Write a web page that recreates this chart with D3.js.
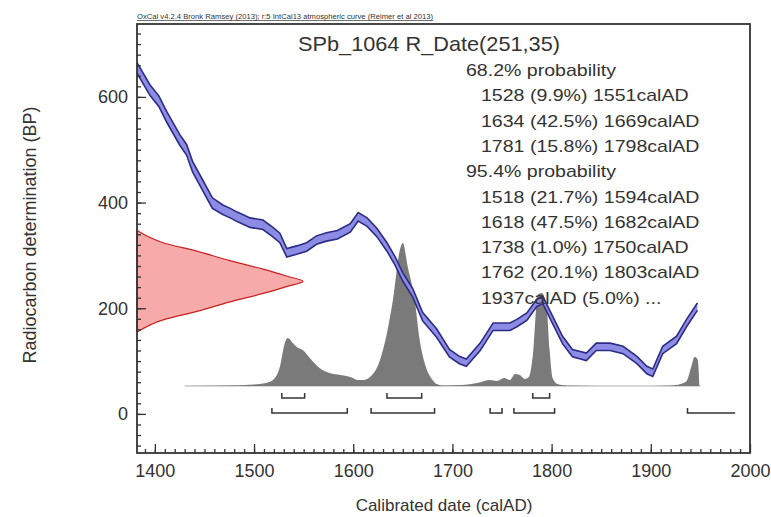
<!DOCTYPE html>
<html>
<head>
<meta charset="utf-8">
<script src="https://cdnjs.cloudflare.com/ajax/libs/d3/7.8.5/d3.min.js"></script>
<style>
  body { margin: 0; background: #fff; }
  text { font-family: "Liberation Sans", Arial, sans-serif; fill: #333; }
</style>
</head>
<body>
<script>
// calibration curve (IntCal13 section), calAD -> BP, with 1 sigma
var curveYear  = [1382,1395,1404,1412,1425,1432,1438,1447,1458,1469,1476,1483,1496,1509,1519,1526,1533,1543,1553,1563,1573,1584,1597,1605,1614,1624,1634,1642,1650,1660,1670,1684,1697,1707,1714,1728,1741,1758,1765,1775,1785,1791,1801,1811,1821,1835,1845,1859,1872,1886,1896,1902,1912,1926,1936,1947];
var curveBP    = [655,613,592,562,519,500,468,437,399,386,380,373,362,358,344,333,305,310,316,329,335,339,352,373,363,343,316,290,259,229,184,153,115,102,97,127,165,165,172,184,210,216,178,140,115,108,127,127,121,102,83,78,121,140,172,203];
var curveSigma = [10,10,10,10,10,10,10,10,10,9,9,9,9,9,9,9,8,8,8,8,8,8,8,8,8,8,8,8,8,8,8,8,7,7,7,7,7,7,7,7,7,7,7,7,7,7,7,7,7,7,7,7,7,7,7,7];

// measured date R_Date(251,35): BP vs relative density
var dateBP      = [156,178,194,212,228,241,251,261,274,290,308,324,346];
var dateDensity = [0.006,0.157,0.36,0.56,0.76,0.90,1.0,0.90,0.76,0.56,0.36,0.157,0.006];

// calibrated posterior: calAD vs relative probability
var postYear = [1430,1470,1500,1512,1519,1526,1531,1534,1539,1543,1549,1558,1566,1576,1587,1597,1605,1610,1617,1627,1634,1640,1647,1650,1655,1662,1667,1672,1680,1684,1692,1710,1725,1738,1745,1752,1758,1763,1768,1773,1777,1781,1786,1790,1795,1798,1801,1806,1815,1850,1900,1920,1930,1936,1941,1944,1947,1948,1949];
var postProb = [0,0.5,1.5,3,6,19,43,48,43,39,36,26,18,13,11,9,6,6,9,26,53,86,136,143,119,86,46,23,6,2,0.5,1,3,6,5,8,6,12,11,7,9,30,91,93,79,36,8,2,0.5,0,0,0.5,2,5,20,29,27,20,0];

// hpd ranges
var range68 = [[1528,1551],[1634,1669],[1781,1798]];
var range95 = [[1518,1594],[1618,1682],[1738,1750],[1762,1803],[1937,1985]];
var openEnded95 = [false,false,false,false,true];

var legendLines = [
  {t:"68.2% probability", indent:0},
  {t:"1528 (9.9%) 1551calAD", indent:1},
  {t:"1634 (42.5%) 1669calAD", indent:1},
  {t:"1781 (15.8%) 1798calAD", indent:1},
  {t:"95.4% probability", indent:0},
  {t:"1518 (21.7%) 1594calAD", indent:1},
  {t:"1618 (47.5%) 1682calAD", indent:1},
  {t:"1738 (1.0%) 1750calAD", indent:1},
  {t:"1762 (20.1%) 1803calAD", indent:1},
  {t:"1937calAD (5.0%) ...", indent:1}
];

var xTicks = [1400,1500,1600,1700,1800,1900,2000];
var yTicks = [0,200,400,600];

var width = 771, height = 517;
var pL = 137, pR = 750, pT = 24, pB = 453;

var svg = d3.select("body").append("svg")
  .attr("width", width)
  .attr("height", height);

var x = d3.scaleLinear().domain([1382, 2000]).range([pL, pR]);
var y = d3.scaleLinear().domain([-74, 738]).range([pB, pT]);

// header
svg.append("text")
  .attr("x", pL).attr("y", 19)
  .attr("font-size", 7)
  .attr("fill", "#555")
  .attr("textLength", 296).attr("lengthAdjust", "spacingAndGlyphs")
  .style("text-decoration", "underline")
  .text("OxCal v4.2.4 Bronk Ramsey (2013); r:5 IntCal13 atmospheric curve (Reimer et al 2013)");

// posterior (grey)
var baseY = 386;
var h = d3.scaleLinear().domain([0, 143]).range([0, 143]);
svg.append("line")
  .attr("x1", x(1430)).attr("x2", x(1950))
  .attr("y1", baseY).attr("y2", baseY)
  .attr("stroke", "#b0b0b0").attr("stroke-width", 1.2);
var post = postYear.map(function(d, i) { return {yr: d, p: postProb[i]}; });
svg.append("path")
  .datum(post)
  .attr("fill", "#7a7a7a")
  .attr("d", d3.area()
    .x(function(d) { return x(d.yr); })
    .y0(baseY)
    .y1(function(d) { return baseY - h(d.p); })
    .curve(d3.curveMonotoneX));

// measured date (red)
var w = d3.scaleLinear().domain([0, 1]).range([0, 166]);
var dd = dateBP.map(function(d, i) { return {bp: d, v: dateDensity[i]}; });
svg.append("path")
  .datum(dd)
  .attr("fill", "#f7aaaa")
  .attr("stroke", "#c82020")
  .attr("stroke-width", 1.2)
  .attr("d", d3.area()
    .y(function(d) { return y(d.bp); })
    .x0(pL)
    .x1(function(d) { return pL + w(d.v); })
    .curve(d3.curveMonotoneY));

// calibration curve band
var cc = curveYear.map(function(d, i) { return {yr: d, bp: curveBP[i], s: curveSigma[i]}; });
svg.append("path")
  .datum(cc)
  .attr("fill", "#8c8ce4")
  .attr("d", d3.area()
    .x(function(d) { return x(d.yr); })
    .y0(function(d) { return y(d.bp - d.s); })
    .y1(function(d) { return y(d.bp + d.s); }));
[1, -1].forEach(function(sgn) {
  svg.append("path")
    .datum(cc)
    .attr("fill", "none")
    .attr("stroke", "#2c2c84")
    .attr("stroke-width", 1.6)
    .attr("d", d3.line()
      .x(function(d) { return x(d.yr); })
      .y(function(d) { return y(d.bp + sgn * d.s); }));
});

// range brackets
function brackets(ranges, yy, open) {
  ranges.forEach(function(r, i) {
    var p = "M" + x(r[0]) + "," + (yy - 5) + "V" + yy + "H" + x(r[1]);
    if (!open || !open[i]) p += "V" + (yy - 5);
    svg.append("path").attr("d", p)
      .attr("fill", "none").attr("stroke", "#333").attr("stroke-width", 1.5);
  });
}
brackets(range68, 398, null);
brackets(range95, 413, openEnded95);

// axes
svg.append("g").attr("transform", "translate(0," + pB + ")")
  .call(d3.axisBottom(x).tickValues(xTicks).tickSize(-9).tickPadding(11).tickFormat(d3.format("d")));
svg.append("g").attr("transform", "translate(0," + pB + ")")
  .call(d3.axisBottom(x).tickValues(d3.range(1390, 2000, 10)).tickSize(-4).tickFormat(""));
svg.append("g").attr("transform", "translate(" + pL + ",0)")
  .call(d3.axisLeft(y).tickValues(yTicks).tickSize(-9).tickPadding(9));
svg.append("g").attr("transform", "translate(" + pL + ",0)")
  .call(d3.axisLeft(y).tickValues(d3.range(-60, 740, 20)).tickSize(-4).tickFormat(""));
svg.selectAll(".domain").remove();
svg.selectAll(".tick line").attr("stroke", "#333").attr("stroke-width", 1.3);
svg.selectAll(".tick text").attr("font-size", 18).style("font-family", "Liberation Sans, Arial, sans-serif").attr("fill", "#333");

// frame
svg.append("rect")
  .attr("x", pL).attr("y", pT)
  .attr("width", pR - pL).attr("height", pB - pT)
  .attr("fill", "none").attr("stroke", "#333").attr("stroke-width", 1.8);

// title
svg.append("text")
  .attr("x", 429).attr("y", 51)
  .attr("text-anchor", "middle")
  .attr("font-size", 21)
  .attr("textLength", 262).attr("lengthAdjust", "spacingAndGlyphs")
  .text("SPb_1064 R_Date(251,35)");

// legend text, slightly wide like the reference
svg.selectAll(".leg")
  .data(legendLines)
  .enter().append("text")
  .attr("class", "leg")
  .attr("x", function(d) { return d.indent ? 481 : 466; })
  .attr("y", function(d, i) { return 76 + i * 25.3; })
  .attr("font-size", 17)
  .text(function(d) { return d.t; })
  .each(function() {
    var len = this.getComputedTextLength();
    d3.select(this).attr("textLength", len * 1.15).attr("lengthAdjust", "spacingAndGlyphs");
  });

// axis titles
svg.append("text")
  .attr("x", 444).attr("y", 511)
  .attr("text-anchor", "middle")
  .attr("font-size", 17)
  .text("Calibrated date (calAD)");
svg.append("text")
  .attr("transform", "translate(36,235) rotate(-90)")
  .attr("text-anchor", "middle")
  .attr("font-size", 18)
  .text("Radiocarbon determination (BP)");
</script>
</body>
</html>
